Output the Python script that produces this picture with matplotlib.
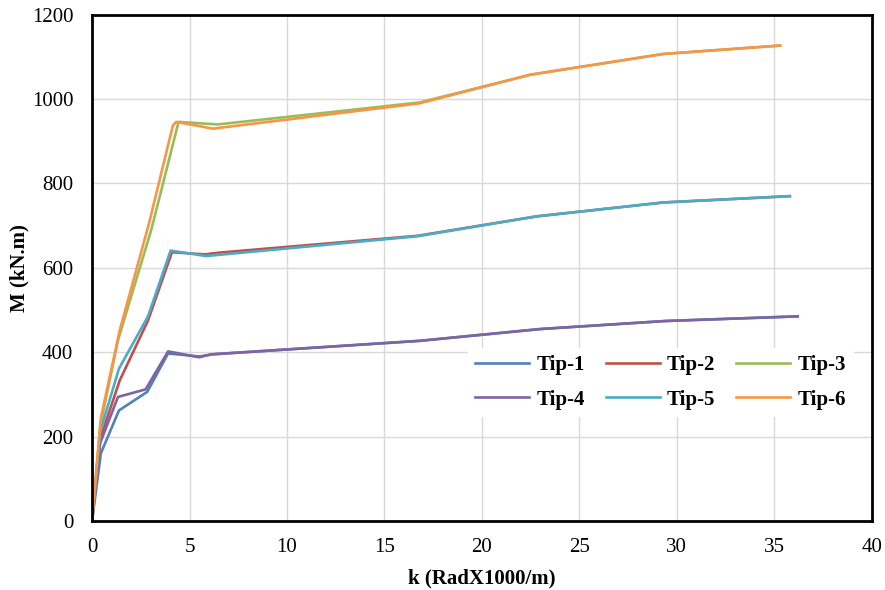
import matplotlib
matplotlib.use("Agg")
import matplotlib.pyplot as plt

# curvature k (RadX1000/m) and moment M (kN.m) per specimen
labels = ["Tip-1", "Tip-2", "Tip-3", "Tip-4", "Tip-5", "Tip-6"]
colors = ["#4F81BD", "#C0504D", "#9BBB59", "#8064A2", "#4BACC6", "#F79646"]

k1 = [0, 0.45, 1.38, 2.83, 3.9, 5.5, 6.2, 16.8, 23.0, 29.4, 36.2]
m1 = [0, 160, 262, 306, 397, 390, 395, 427, 455, 474, 485]

k2 = [0, 0.42, 1.42, 2.87, 4.1, 5.8, 6.5, 16.7, 22.8, 29.3, 35.8]
m2 = [0, 195, 333, 475, 637, 632, 636, 676, 722, 755, 770]

k3 = [0, 0.42, 1.33, 3.05, 4.44, 6.45, 16.8, 22.5, 29.3, 35.3]
m3 = [0, 225, 428, 692, 946, 940, 992, 1058, 1107, 1127]

k4 = [0, 0.42, 1.33, 2.75, 3.9, 5.5, 6.1, 16.8, 23.0, 29.4, 36.2]
m4 = [0, 185, 294, 312, 402, 388, 395, 427, 455, 474, 485]

k5 = [0, 0.42, 1.38, 2.87, 4.03, 5.85, 16.7, 22.8, 29.3, 35.8]
m5 = [0, 212, 361, 485, 641, 628, 675, 722, 755, 770]

k6 = [0, 0.45, 1.42, 2.92, 4.15, 4.32, 6.2, 16.8, 22.5, 29.3, 35.3]
m6 = [0, 244, 452, 705, 938, 946, 930, 990, 1058, 1107, 1127]

ks = [k1, k2, k3, k4, k5, k6]
ms = [m1, m2, m3, m4, m5, m6]

plt.rcParams['font.family'] = ['Liberation Serif', 'DejaVu Serif']

fig = plt.figure(figsize=(8.85, 5.9), dpi=100)
ax = fig.add_axes([0.104, 0.117, 0.881, 0.858])

lines = []
for k, m, lab, col in zip(ks, ms, labels, colors):
    ln, = ax.plot(k, m, color=col, lw=1.9, label=lab, solid_joinstyle='round')
    lines.append(ln)

ax.set_xlim(0, 40)
ax.set_ylim(0, 1200)
ax.set_xticks(range(0, 41, 5))
ax.set_yticks(range(0, 1201, 200))
ax.grid(True, color="#D9D9D9", lw=1.0)
ax.set_axisbelow(True)
ax.tick_params(length=0, labelsize=15)
ax.tick_params(axis='x', pad=12.5)
ax.tick_params(axis='y', pad=13.5)
for sp in ax.spines.values():
    sp.set_linewidth(2.0)
    sp.set_color("black")

ax.set_xlabel("k (RadX1000/m)", fontsize=15, fontweight="bold", labelpad=8)
ax.set_ylabel("M (kN.m)", fontsize=15, fontweight="bold", labelpad=2)

# legend filled row by row, like the original
order = [0, 3, 1, 4, 2, 5]
leg = ax.legend([lines[i] for i in order], [labels[i] for i in order],
                ncol=3, loc="lower right", bbox_to_anchor=(0.99, 0.185),
                prop={'weight': 'bold', 'size': 15}, frameon=True,
                fancybox=False, handlelength=2.6, columnspacing=1.0,
                handletextpad=0.35, labelspacing=0.7, borderpad=0.35)
leg.get_frame().set_facecolor("white")
leg.get_frame().set_edgecolor("none")
leg.get_frame().set_alpha(1.0)

fig.savefig("out.png", dpi=100)
